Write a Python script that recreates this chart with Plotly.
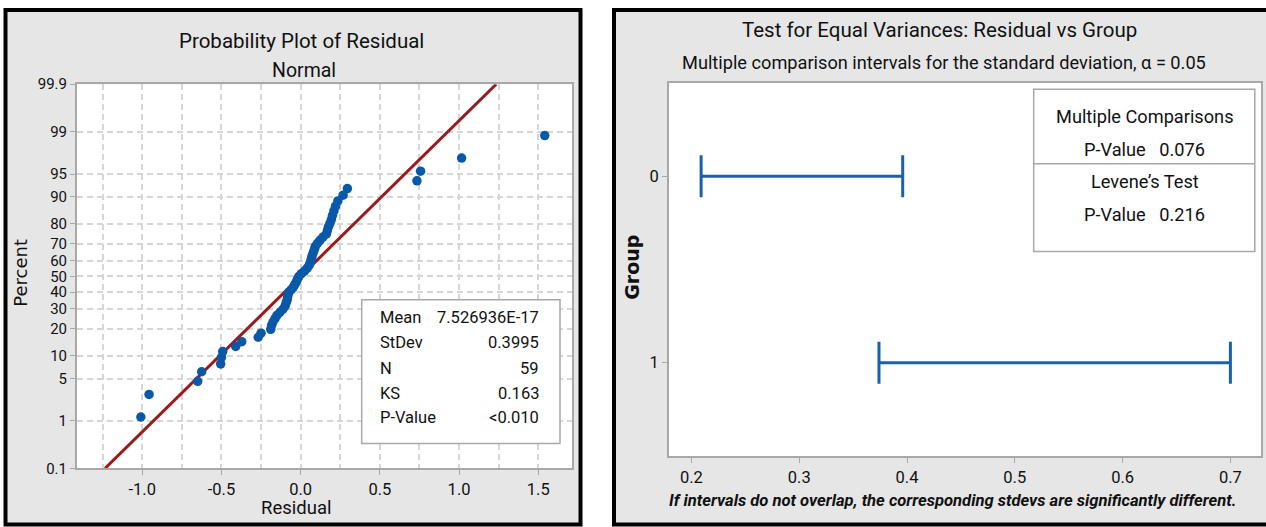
import plotly.graph_objects as go
from statistics import NormalDist

# ---------------- data ----------------
residuals = [-1.009, -0.957, -0.650, -0.625, -0.505, -0.500, -0.492, -0.410, -0.372, -0.268,
             -0.250, -0.189, -0.184, -0.175, -0.162, -0.150, -0.131, -0.112, -0.099, -0.093,
             -0.086, -0.083, -0.080, -0.074, -0.058, -0.045, -0.036, -0.026, -0.020, -0.011,
             0.005, 0.024, 0.040, 0.052, 0.059, 0.065, 0.069, 0.074, 0.081, 0.087,
             0.093, 0.106, 0.122, 0.141, 0.163, 0.169, 0.175, 0.185, 0.194, 0.201,
             0.210, 0.220, 0.235, 0.268, 0.295, 0.734, 0.757, 1.016, 1.541]
fit_mean = 7.526936e-17
fit_stdev = 0.3995
stat_labels = ["Mean", "StDev", "N", "KS", "P-Value"]
stat_values = ["7.526936E-17", "0.3995", "59", "0.163", "<0.010"]

pct_ticks = [0.1, 1, 5, 10, 20, 30, 40, 50, 60, 70, 80, 90, 95, 99, 99.9]
pct_tick_labels = ["0.1", "1", "5", "10", "20", "30", "40", "50", "60", "70", "80", "90", "95", "99", "99.9"]
resid_ticks = [-1.0, -0.5, 0.0, 0.5, 1.0, 1.5]
resid_tick_labels = ["-1.0", "-0.5", "0.0", "0.5", "1.0", "1.5"]

groups = [0, 1]
group_labels = ["0", "1"]
ci_lower = [0.209, 0.374]
ci_upper = [0.396, 0.700]
sd_ticks = [0.2, 0.3, 0.4, 0.5, 0.6, 0.7]
sd_tick_labels = ["0.2", "0.3", "0.4", "0.5", "0.6", "0.7"]
mc_pvalue = "0.076"
levene_pvalue = "0.216"

# ---------------- helpers ----------------
W, H = 1266, 527
Y_OFF, Y_K = 10.0, 0.963   # vertical correction observed in the rendered photo

def px(x):
    return x / W

def py(y):
    ys = (y - Y_OFF) / Y_K
    return 1 - ys / H

nd = NormalDist()
n = len(residuals)
ranks = list(range(1, n + 1))
# median-rank plotting positions (Benard), on a normal-probability scale
pct_pos = [(i - 0.3) / (n + 0.4) for i in ranks]
z_pos = [nd.inv_cdf(p) for p in pct_pos]
z_ticks = [nd.inv_cdf(p / 100) for p in pct_ticks]
z_lo, z_hi = z_ticks[0], z_ticks[-1]
fit_z = [z_lo, z_hi]
fit_x = [fit_mean + fit_stdev * z for z in fit_z]

FONT = "Roboto, Liberation Sans, sans-serif"
TXT = "#111111"
GRID = "#d6d6d6"
FRAME = "#a8a8a8"
RED = "#9c1a1a"
BLUE = "#0a58a8"
IBLUE = "#1b60ad"
PANEL = "#e6e6e6"

fig = go.Figure()

fig.add_trace(go.Scatter(x=fit_x, y=fit_z, mode="lines",
                         line=dict(color=RED, width=3), xaxis="x", yaxis="y",
                         showlegend=False, hoverinfo="skip"))
fig.add_trace(go.Scatter(x=residuals, y=z_pos, mode="markers",
                         marker=dict(color=BLUE, size=9.5, line=dict(width=0)),
                         xaxis="x", yaxis="y", showlegend=False))

for g, lo, hi in zip(groups, ci_lower, ci_upper):
    fig.add_trace(go.Scatter(x=[lo, hi], y=[g, g], mode="lines+markers",
                             line=dict(color=IBLUE, width=3),
                             marker=dict(symbol="line-ns", size=30,
                                         line=dict(color=IBLUE, width=3)),
                             xaxis="x2", yaxis="y2", showlegend=False))

axis_common = dict(showline=True, linecolor=FRAME, linewidth=2, mirror=True,
                   zeroline=False, ticks="outside", ticklen=5, tickcolor=FRAME)
tick_big = dict(family=FONT, size=16.5, color=TXT)
tick_small = dict(family=FONT, size=15, color=TXT)

shapes = [
    # panel backgrounds with black frames
    dict(type="rect", xref="paper", yref="paper", x0=px(5.5), x1=px(580.5), y0=py(524), y1=py(11),
         fillcolor=PANEL, line=dict(color="black", width=4), layer="below"),
    dict(type="rect", xref="paper", yref="paper", x0=px(614), x1=px(1290), y0=py(524), y1=py(11),
         fillcolor=PANEL, line=dict(color="black", width=4), layer="below"),
    # plot areas
    dict(type="rect", xref="paper", yref="paper", x0=px(77), x1=px(572), y0=py(468), y1=py(85),
         fillcolor="white", line=dict(width=0), layer="below"),
    dict(type="rect", xref="paper", yref="paper", x0=px(669), x1=px(1261), y0=py(456), y1=py(83.3),
         fillcolor="white", line=dict(width=0), layer="below"),
    # stat boxes
    dict(type="rect", xref="paper", yref="paper", x0=px(361.7), x1=px(560), y0=py(443.3), y1=py(300),
         fillcolor="white", line=dict(color=FRAME, width=1.5), layer="above"),
    dict(type="rect", xref="paper", yref="paper", x0=px(1033.7), x1=px(1254.8), y0=py(251.7), y1=py(90),
         fillcolor="white", line=dict(color=FRAME, width=1.5), layer="above"),
    dict(type="line", xref="paper", yref="paper", x0=px(1033.7), x1=px(1254.8), y0=py(164.3), y1=py(164.3),
         line=dict(color=FRAME, width=1.5), layer="above"),
]

ann = []
def text(x, y, s, size, xanchor="center", family=FONT, angle=0, weight="normal", style="normal"):
    ann.append(dict(x=px(x), y=py(y), xref="paper", yref="paper", text=s, showarrow=False,
                    xanchor=xanchor, yanchor="middle", textangle=angle,
                    font=dict(family=family, size=size, color=TXT, weight=weight, style=style)))

# left panel texts
text(301, 42, "Probability Plot of Residual", 20.5)
text(304, 71, "Normal", 19.5)
text(296, 508, "Residual", 18.5)
text(21, 273, "Percent", 18, family="DejaVu Sans", angle=-90)
row_y = [317.3, 342.7, 368.3, 393.3, 417.7]
for lab, val, yy in zip(stat_labels, stat_values, row_y):
    text(378, yy, lab, 16.5, xanchor="left")
    text(541, yy, val, 16.5, xanchor="right")

# right panel texts
text(939, 31, "Test for Equal Variances: Residual vs Group", 20.5)
text(944, 63, "Multiple comparison intervals for the standard deviation, \u03b1 = 0.05", 18.2)
text(632, 268, "Group", 19, family="DejaVu Sans", angle=-90, weight="bold")
text(952, 500, "If intervals do not overlap, the corresponding stdevs are significantly different.",
     16.6, weight="bold", style="italic")
text(1144.5, 116.7, "Multiple Comparisons", 18.2)
text(1144.5, 150, "P-Value\u00a0\u00a0\u00a0" + mc_pvalue, 18.2)
text(1144.5, 181.7, "Levene\u2019s Test", 18.2)
text(1144.5, 215, "P-Value\u00a0\u00a0\u00a0" + levene_pvalue, 18.2)

fig.update_layout(
    width=W, height=H, margin=dict(l=0, r=0, t=0, b=0),
    paper_bgcolor="white", plot_bgcolor="white", showlegend=False,
    xaxis=dict(domain=[px(77), px(572)], range=[-1.412, 1.713], anchor="y",
               tickmode="array", tickvals=resid_ticks, ticktext=resid_tick_labels,
               showgrid=True, gridcolor=GRID, griddash="6px,4px", gridwidth=1.5,
               minor=dict(dtick=0.25, tick0=0, showgrid=True, gridcolor=GRID,
                          griddash="6px,4px", gridwidth=1.5, ticks=""),
               tickfont=tick_big, **axis_common),
    yaxis=dict(domain=[py(468), py(85)], range=[z_lo, z_hi], anchor="x",
               tickmode="array", tickvals=z_ticks, ticktext=pct_tick_labels,
               showgrid=True, gridcolor=GRID, griddash="6px,4px", gridwidth=1.5,
               tickfont=tick_small, **axis_common),
    xaxis2=dict(domain=[px(669), px(1261)], range=[0.1792, 0.7284], anchor="y2",
                tickmode="array", tickvals=sd_ticks, ticktext=sd_tick_labels,
                showgrid=False, tickfont=tick_big, **axis_common),
    yaxis2=dict(domain=[py(456), py(83.3)], range=[1.502, -0.502], anchor="x2",
                tickmode="array", tickvals=groups, ticktext=group_labels,
                showgrid=False, tickfont=tick_big, **axis_common),
    shapes=shapes, annotations=ann,
)

fig.write_html("out.html")
